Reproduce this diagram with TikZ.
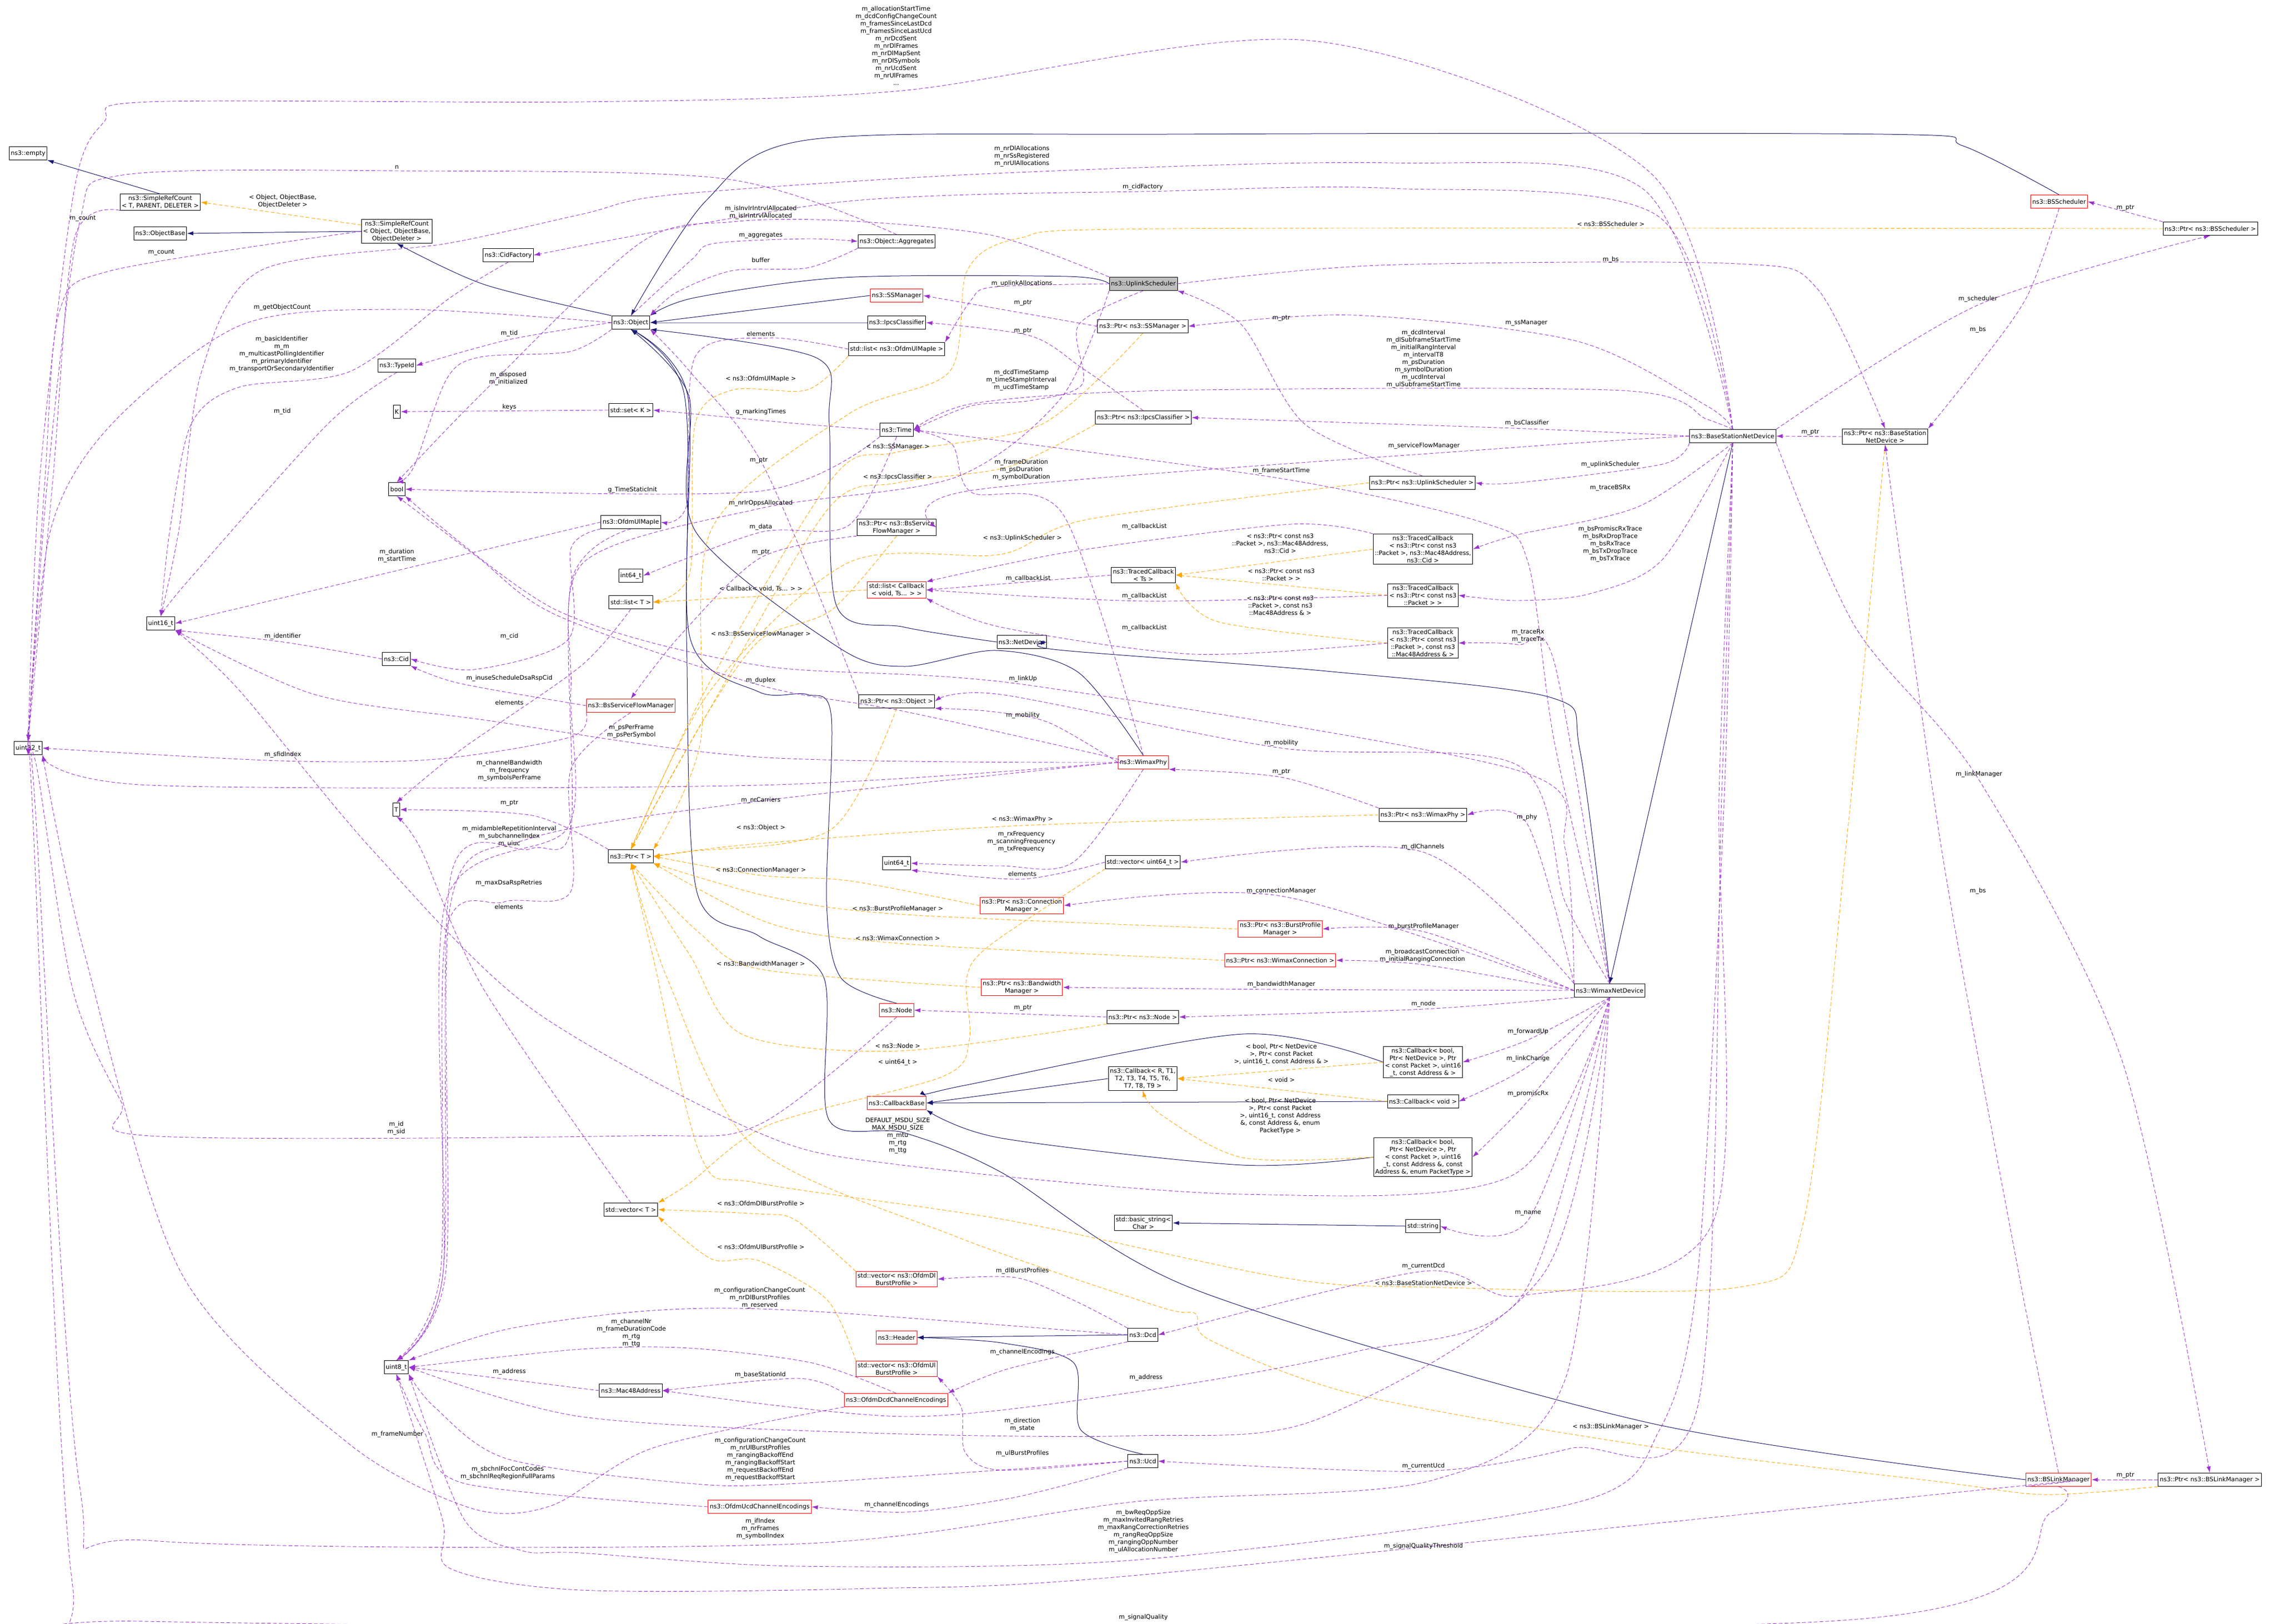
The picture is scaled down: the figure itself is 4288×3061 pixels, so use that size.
\documentclass[tikz,border=0pt]{standalone}
\usepackage{fontspec}
\setmainfont{DejaVu Sans}
\usetikzlibrary{arrows.meta}
\definecolor{mcol}{HTML}{9A32CD}
\definecolor{tcol}{HTML}{FFA500}
\definecolor{icol}{HTML}{191970}
\newcommand{\E}[4][mem]{\draw[#1] plot[smooth,tension=0.5] coordinates {#2 #3 #4};}
\begin{document}
\begin{tikzpicture}[x=1pt,y=-1pt,
  every node/.style={font=\fontsize{11.5}{14}\selectfont},
  box/.style={draw=black,fill=white,line width=1pt,inner sep=3pt,minimum height=25pt,align=center},
  rbox/.style={box,draw=red},
  gbox/.style={box,fill=black!25},
  lbl/.style={align=center,inner sep=0pt},
  mem/.style={draw=mcol,line width=0.9pt,dash pattern=on 7pt off 4pt,-{Latex[length=12pt,width=8pt]}},
  tmpl/.style={draw=tcol,line width=0.9pt,dash pattern=on 7pt off 4pt,-{Latex[length=12pt,width=8pt]}},
  inh/.style={draw=icol,line width=1pt,-{Latex[length=12pt,width=8pt]}}]
\useasboundingbox (0,0) rectangle (4288,3061);
% nodes
\node[box] (empty) at (53,289) {ns3::empty};
\node[box] (srcT) at (302,381) {ns3::SimpleRefCount\\< T, PARENT, DELETER >};
\node[box] (objbase) at (302,440) {ns3::ObjectBase};
\node[box] (srcO) at (748,436) {ns3::SimpleRefCount\\< Object, ObjectBase,\\ObjectDeleter >};
\node[box] (cidf) at (958,481) {ns3::CidFactory};
\node[box] (typeid) at (748,689) {ns3::TypeId};
\node[box] (K) at (748,776) {K};
\node[box] (u16) at (303,1175) {uint16\_t};
\node[box] (u32) at (53,1410) {uint32\_t};
\node[box] (bool) at (748,922) {bool};
\node[box] (cid) at (747,1242) {ns3::Cid};
\node[box] (T) at (747,1526) {T};
\node[box] (obj) at (1189,608) {ns3::Object};
\node[box] (setK) at (1189,773) {std::set< K >};
\node[box] (ulmapie) at (1189,984) {ns3::OfdmUlMapIe};
\node[box] (i64) at (1189,1085) {int64\_t};
\node[box] (listT) at (1189,1135) {std::list< T >};
\node[rbox] (bssfm) at (1189,1330) {ns3::BsServiceFlowManager};
\node[box] (ptrT) at (1189,1614) {ns3::Ptr< T >};
\node[box] (vecT) at (1189,2280) {std::vector< T >};
\node[box] (u8) at (747,2577) {uint8\_t};
\node[box] (mac) at (1189,2621) {ns3::Mac48Address};
\node[rbox] (header) at (1690,2521) {ns3::Header};
\node[box] (aggr) at (1690,455) {ns3::Object::Aggregates};
\node[rbox] (ssm) at (1690,557) {ns3::SSManager};
\node[box] (ipcs) at (1690,608) {ns3::IpcsClassifier};
\node[box] (listUl) at (1690,658) {std::list< ns3::OfdmUlMapIe >};
\node[box] (time) at (1690,810) {ns3::Time};
\node[box] (ptrSfm) at (1690,994) {ns3::Ptr< ns3::BsService\\FlowManager >};
\node[rbox] (listCb) at (1690,1112) {std::list< Callback\\< void, Ts... > >};
\node[box] (netdev) at (1926,1210) {ns3::NetDevice};
\node[box] (ptrObj) at (1690,1322) {ns3::Ptr< ns3::Object >};
\node[box] (u64) at (1690,1627) {uint64\_t};
\node[rbox] (ptrConn) at (1926,1707) {ns3::Ptr< ns3::Connection\\Manager >};
\node[rbox] (node) at (1690,1904) {ns3::Node};
\node[rbox] (cbbase) at (1690,2079) {ns3::CallbackBase};
\node[rbox] (vecDl) at (1690,2411) {std::vector< ns3::OfdmDl\\BurstProfile >};
\node[rbox] (vecUl) at (1690,2580) {std::vector< ns3::OfdmUl\\BurstProfile >};
\node[rbox] (dcdenc) at (1689,2639) {ns3::OfdmDcdChannelEncodings};
\node[rbox] (ucdenc) at (1432,2840) {ns3::OfdmUcdChannelEncodings};
\node[gbox] (ulsched) at (2155,535) {ns3::UplinkScheduler};
\node[box] (ptrSsm) at (2154,615) {ns3::Ptr< ns3::SSManager >};
\node[box] (ptrIpcs) at (2155,787) {ns3::Ptr< ns3::IpcsClassifier >};
\node[box] (ptrUls) at (2681,910) {ns3::Ptr< ns3::UplinkScheduler >};
\node[box] (tcCid) at (2682,1035) {ns3::TracedCallback\\< ns3::Ptr< const ns3\\::Packet >, ns3::Mac48Address,\\ns3::Cid >};
\node[box] (tcTs) at (2155,1084) {ns3::TracedCallback\\< Ts >};
\node[box] (tcPkt) at (2682,1122) {ns3::TracedCallback\\< ns3::Ptr< const ns3\\::Packet > >};
\node[box] (tcMac) at (2682,1212) {ns3::TracedCallback\\< ns3::Ptr< const ns3\\::Packet >, const ns3\\::Mac48Address \& >};
\node[rbox] (phy) at (2155,1437) {ns3::WimaxPhy};
\node[box] (ptrPhy) at (2682,1536) {ns3::Ptr< ns3::WimaxPhy >};
\node[box] (vecU64) at (2154,1625) {std::vector< uint64\_t >};
\node[rbox] (ptrBpm) at (2413,1751) {ns3::Ptr< ns3::BurstProfile\\Manager >};
\node[rbox] (ptrWc) at (2413,1810) {ns3::Ptr< ns3::WimaxConnection >};
\node[rbox] (ptrBw) at (1926,1861) {ns3::Ptr< ns3::Bandwidth\\Manager >};
\node[box] (ptrNode) at (2154,1917) {ns3::Ptr< ns3::Node >};
\node[box] (cbR) at (2154,2033) {ns3::Callback< R, T1,\\T2, T3, T4, T5, T6,\\T7, T8, T9 >};
\node[box] (cbBool) at (2682,2002) {ns3::Callback< bool,\\Ptr< NetDevice >, Ptr\\< const Packet >, uint16\\\_t, const Address \& >};
\node[box] (cbVoid) at (2682,2076) {ns3::Callback< void >};
\node[box] (cbPkt) at (2682,2181) {ns3::Callback< bool,\\Ptr< NetDevice >, Ptr\\< const Packet >, uint16\\\_t, const Address \&, const\\Address \&, enum PacketType >};
\node[box] (bstr) at (2155,2305) {std::basic\_string<\\Char >};
\node[box] (str) at (2682,2311) {std::string};
\node[box] (dcd) at (2154,2516) {ns3::Dcd};
\node[box] (ucd) at (2154,2754) {ns3::Ucd};
\node[box] (bsnd) at (3266,822) {ns3::BaseStationNetDevice};
\node[box] (ptrBsnd) at (3553,823) {ns3::Ptr< ns3::BaseStation\\NetDevice >};
\node[rbox] (bssch) at (3881,380) {ns3::BSScheduler};
\node[box] (ptrBssch) at (4166,431) {ns3::Ptr< ns3::BSScheduler >};
\node[box] (wnd) at (3034,1867) {ns3::WimaxNetDevice};
\node[rbox] (bslm) at (3880,2789) {ns3::BSLinkManager};
\node[box] (ptrBslm) at (4165,2789) {ns3::Ptr< ns3::BSLinkManager >};
% inheritance
\E[inh]{(srcT.north)}{}{(empty.south east)}
\E[inh]{(srcO.west)}{}{(objbase.east)}
\E[inh]{(obj.north west)}{(912,536)}{(srcO.south)}
\E[inh]{(ulsched.west)}{(2012,521) (1591,523) (1310,561)}{(obj.north east)}
\E[inh]{(ssm.west)}{}{(obj.east)}
\E[inh]{(ipcs.west)}{}{(obj.east)}
\E[inh]{(bssch.north)}{(3700,275) (3550,253) (2200,253) (1521,264) (1331,378)}{(obj.north)}
\E[inh]{(netdev.west)}{(1704,1182) (1576,1140) (1563,800) (1540,675)}{(obj.south east)}
\E[inh]{(phy.north)}{(2032,1267) (1877,1226) (1704,1256) (1580,1220) (1310,1000) (1298,745)}{(obj.south)}
\E[inh]{(node.north)}{(1585,1843) (1558,1700) (1567,1352) (1521,1309) (1430,1304) (1300,1200) (1296,745)}{(obj.south)}
\E[inh]{(bslm.west)}{(3100,2680) (2251,2430) (1886,2209) (1704,2135) (1562,2110) (1553,1843) (1430,1764) (1313,1679) (1294,1200) (1290,745)}{(obj.south)}
\E[inh]{(wnd.north)}{(2978,1415) (2924,1315) (2500,1265) (1995,1225)}{(netdev.east)}
\E[inh]{(bsnd.south)}{}{(wnd.north)}
\E[inh]{(str.west)}{}{(bstr.east)}
\E[inh]{(cbR.west)}{}{(cbbase.east)}
\E[inh]{(cbBool.west)}{(2342,1949) (1822,2045)}{(cbbase.north east)}
\E[inh]{(cbVoid.west)}{}{(cbbase.east)}
\E[inh]{(cbPkt.west)}{(2342,2196) (1886,2145)}{(cbbase.south east)}
\E[inh]{(dcd.west)}{}{(header.east)}
\E[inh]{(ucd.north)}{(2037,2695) (2024,2569) (1887,2531)}{(header.east)}
% template
\E[tmpl]{(srcO.170)}{}{(srcT.east)}
\E[tmpl]{(listUl.south west)}{(1521,735) (1381,735) (1310,800) (1300,1080)}{(listT.east)}
\E[tmpl]{(listCb.west)}{(1430,1124)}{(listT.east)}
\E[tmpl]{(ptrSsm.south)}{(1963,800) (1692,852) (1570,900) (1330,1300)}{(ptrT.north)}
\E[tmpl]{(ptrIpcs.south west)}{(1900,880) (1692,910) (1560,960) (1330,1350)}{(ptrT.north)}
\E[tmpl]{(ptrUls.west)}{(2050,979) (1886,1045) (1600,1060) (1340,1300)}{(ptrT.north)}
\E[tmpl]{(ptrSfm.south)}{(1567,1150) (1434,1205) (1330,1350)}{(ptrT.north)}
\E[tmpl]{(ptrBssch.west)}{(2200,431) (1921,449) (1823,510) (1790,700) (1600,780) (1340,1000) (1320,1400)}{(ptrT.north east)}
\E[tmpl]{(ptrObj.south)}{(1567,1563) (1300,1605)}{(ptrT.east)}
\E[tmpl]{(ptrPhy.west)}{(1927,1556) (1430,1590)}{(ptrT.east)}
\E[tmpl]{(ptrConn.west)}{(1600,1660) (1434,1650)}{(ptrT.east)}
\E[tmpl]{(ptrBpm.west)}{(1692,1723) (1450,1690)}{(ptrT.south east)}
\E[tmpl]{(ptrWc.west)}{(1692,1778) (1450,1740)}{(ptrT.south east)}
\E[tmpl]{(ptrBw.west)}{(1434,1827) (1320,1760)}{(ptrT.south)}
\E[tmpl]{(ptrNode.south west)}{(1692,1981) (1400,1950) (1300,1800)}{(ptrT.south)}
\E[tmpl]{(ptrBsnd.south)}{(3479,1600) (3400,2300) (3279,2426) (2683,2426) (2417,2408) (1900,2300) (1430,2230) (1322,2182) (1230,1800)}{(ptrT.south)}
\E[tmpl]{(ptrBslm.south west)}{(3853,2817) (3648,2792) (3101,2725) (2554,2628) (2281,2526) (2253,2476) (2185,2463) (1800,2330) (1420,2160) (1260,1850)}{(ptrT.south)}
\E[tmpl]{(vecU64.south west)}{(1868,1780) (1822,1843) (1827,1960) (1777,2029) (1450,2120) (1300,2230)}{(vecT.north east)}
\E[tmpl]{(vecDl.north west)}{(1500,2300) (1430,2288)}{(vecT.east)}
\E[tmpl]{(vecUl.north west)}{(1559,2450) (1430,2376) (1341,2373)}{(vecT.south east)}
\E[tmpl]{(tcCid.west)}{}{(tcTs.east)}
\E[tmpl]{(tcPkt.west)}{}{(tcTs.east)}
\E[tmpl]{(tcMac.west)}{(2296,1172)}{(tcTs.south east)}
\E[tmpl]{(cbBool.west)}{}{(cbR.east)}
\E[tmpl]{(cbVoid.west)}{}{(cbR.east)}
\E[tmpl]{(cbPkt.west)}{(2342,2182) (2187,2100)}{(cbR.south)}
% members
\E{(bsnd.north)}{(3112,327) (2474,77) (1689,172) (1100,192) (281,192) (196,230) (140,357) (75,900)}{(u32.north)}
\E{(aggr.north)}{(1367,337) (748,322) (231,330) (150,420) (90,900)}{(u32.north)}
\E{(srcT.south west)}{(140,450) (100,900)}{(u32.north)}
\E{(srcO.west)}{(210,510) (112,587) (85,900)}{(u32.north)}
\E{(obj.west)}{(757,583) (456,612) (210,800) (95,1000)}{(u32.north)}
\E{(obj.west)}{(960,640)}{(typeid.east)}
\E{(cidf.south)}{(850,560) (660,700) (450,730) (360,800) (320,1000)}{(u16.north)}
\E{(obj.south west)}{(1073,663) (905,673) (842,714) (780,880)}{(bool.north)}
\E{(setK.west)}{}{(K.east)}
\E{(typeid.south)}{(617,800) (350,1100)}{(u16.north)}
\E{(bsnd.north)}{(3098,357) (2621,307) (1872,327) (1268,367) (1100,403) (842,459) (491,510) (380,700) (337,1000)}{(u16.north)}
\E{(bsnd.north)}{(3126,408) (2621,355) (2200,360) (1591,380)}{(cidf.east)}
\E{(ulsched.north west)}{(1872,444) (1591,416) (1381,418) (1205,459) (900,750)}{(bool.north)}
\E{(obj.north)}{(1303,490) (1345,459) (1521,450)}{(aggr.west)}
\E{(aggr.south west)}{(1521,505) (1381,510) (1275,551)}{(obj.north east)}
\E{(ulsched.west)}{(1872,541) (1830,566)}{(listUl.north east)}
\E{(ptrSsm.west)}{}{(ssm.east)}
\E{(ptrIpcs.north)}{(2040,694) (1942,633)}{(ipcs.east)}
\E{(ptrUls.north)}{(2460,800) (2340,612)}{(ulsched.south east)}
\E{(ulsched.south)}{(2033,612) (2040,724) (1942,755) (1830,765)}{(time.east)}
\E{(listUl.west)}{(1451,637) (1310,673) (1295,949)}{(ulmapie.east)}
\E{(time.west)}{(1521,800)}{(setK.east)}
\E{(ulsched.east)}{(2600,500) (3273,497) (3426,545)}{(ptrBsnd.north)}
\E{(bssch.south)}{(3820,560) (3720,700)}{(ptrBsnd.north east)}
\E{(ptrBsnd.west)}{}{(bsnd.east)}
\E{(bsnd.north east)}{(3728,575)}{(ptrBssch.south)}
\E{(ptrBssch.north west)}{}{(bssch.east)}
\E{(bsnd.north)}{(3217,765) (2972,643) (2551,594)}{(ptrSsm.east)}
\E{(bsnd.north)}{(3217,790) (3056,736) (2200,736) (1837,760)}{(time.east)}
\E{(bsnd.west)}{(2878,808)}{(ptrIpcs.east)}
\E{(bsnd.west)}{(2860,843) (1840,923)}{(ptrSfm.east)}
\E{(bsnd.south west)}{(3133,875) (2860,910)}{(ptrUls.east)}
\E{(bsnd.south)}{(3088,955) (2860,1008)}{(tcCid.east)}
\E{(bsnd.south)}{(3133,1055) (2997,1119) (2860,1132)}{(tcPkt.east)}
\E{(wnd.north)}{(2930,1400) (2880,1060) (2798,986) (2415,902)}{(time.east)}
\E{(wnd.north)}{(2930,1250) (2860,1215)}{(tcMac.east)}
\E{(wnd.north west)}{(2878,1552)}{(ptrPhy.east)}
\E{(wnd.north west)}{(2682,1606)}{(vecU64.east)}
\E{(wnd.west)}{(2415,1689)}{(ptrConn.east)}
\E{(wnd.west)}{(2683,1756)}{(ptrBpm.east)}
\E{(wnd.west)}{(2681,1818)}{(ptrWc.east)}
\E{(wnd.west)}{(2415,1865)}{(ptrBw.east)}
\E{(wnd.south west)}{(2683,1902)}{(ptrNode.east)}
\E{(wnd.south)}{(2880,1960)}{(cbBool.east)}
\E{(wnd.south)}{(2880,2010)}{(cbVoid.east)}
\E{(wnd.south)}{(2880,2075)}{(cbPkt.east)}
\E{(wnd.south)}{(2880,2300)}{(str.east)}
\E{(bsnd.south)}{(3240,1500) (3230,2300) (2869,2442) (2683,2396)}{(dcd.east)}
\E{(bsnd.south)}{(3245,1500) (3200,2650) (2960,2730) (2683,2773)}{(ucd.east)}
\E{(wnd.north west)}{(2950,1600) (2860,1452) (1928,1290) (1430,1254) (1049,1150)}{(bool.south east)}
\E{(phy.west)}{(1977,1362) (1868,1341)}{(ptrObj.south east)}
\E{(wnd.north)}{(2950,1700) (2860,1442) (2415,1410) (1886,1309)}{(ptrObj.east)}
\E{(ptrPhy.north west)}{(2415,1465)}{(phy.south east)}
\E{(phy.south)}{(2023,1625) (1886,1632)}{(u64.east)}
\E{(vecU64.west)}{(1927,1657)}{(u64.south east)}
\E{(ptrNode.west)}{}{(node.east)}
\E{(node.south)}{(1430,2120) (1186,2141) (283,2141) (228,2076) (137,1865) (70,1450)}{(u32.south)}
\E{(wnd.south)}{(2853,2214) (2342,2251) (1692,2195) (1430,2135) (1000,1900) (700,1600) (450,1300)}{(u16.south east)}
\E{(bsnd.south east)}{(3497,1182) (3730,1470) (4000,2000)}{(ptrBslm.north)}
\E{(ptrBslm.west)}{}{(bslm.east)}
\E{(bslm.north)}{(3805,2400) (3661,1610)}{(ptrBsnd.south)}
\E{(bsnd.south)}{(3250,1500) (3200,2400) (3128,2695) (2964,2834) (2144,2940) (1504,2952) (1094,2927) (985,2923) (875,2864)}{(u8.south east)}
\E{(bslm.south west)}{(3805,2801) (2144,2969) (1641,2994) (1094,2997) (848,2956) (834,2864)}{(u8.south)}
\E{(bslm.south)}{(3867,2850) (3443,3056) (273,3056) (137,2990) (60,1500)}{(u32.south)}
\E{(wnd.south)}{(2910,2400) (2486,2674) (2144,2706) (1641,2701) (1094,2670)}{(u8.east)}
\E{(wnd.south)}{(2869,2442) (2554,2548) (2144,2623) (1709,2670)}{(mac.east)}
\E{(wnd.south)}{(2950,2600) (2700,2790) (2144,2830) (1504,2910) (287,2904) (150,2800) (65,1500)}{(u32.south)}
\E{(dcdenc.south west)}{(1231,2729) (1039,2838) (889,2843) (656,2720) (342,2400) (160,1800)}{(u32.south east)}
\E{(ucdenc.west)}{(875,2796) (800,2700)}{(u8.south)}
\E{(ucd.west)}{(1504,2796) (1299,2796) (957,2750) (820,2653)}{(u8.south east)}
\E{(ucd.west)}{(1887,2771) (1819,2737) (1812,2653)}{(vecUl.south east)}
\E{(ucd.south west)}{(1914,2822) (1709,2850)}{(ucdenc.east)}
\E{(dcd.south west)}{(1900,2580)}{(dcdenc.north east)}
\E{(dcd.north west)}{(2024,2451) (1914,2408)}{(vecDl.east)}
\E{(dcd.west)}{(1504,2470) (1231,2470) (957,2505)}{(u8.north east)}
\E{(dcdenc.north)}{(1531,2569) (1299,2541) (1094,2543)}{(u8.east)}
\E{(mac.west)}{}{(u8.east)}
\E{(dcdenc.north west)}{(1504,2598)}{(mac.east)}
\E{(phy.west)}{(1430,1510) (1000,1580) (850,1700) (840,2400)}{(u8.north)}
\E{(phy.west)}{(1430,1427) (912,1357) (593,1309)}{(u16.south east)}
\E{(phy.west)}{(1430,1480) (283,1480)}{(u32.south east)}
\E{(bssfm.south west)}{(1076,1389) (821,1431) (529,1434)}{(u32.east)}
\E{(bssfm.west)}{(866,1288)}{(cid.south east)}
\E{(ulmapie.south west)}{(1076,1034) (1072,1204) (894,1262)}{(cid.east)}
\E{(ulmapie.west)}{}{(u16.east)}
\E{(cid.west)}{(533,1210)}{(u16.south east)}
\E{(time.south west)}{(1430,926)}{(bool.east)}
\E{(listT.south)}{(1094,1256) (866,1415)}{(T.north)}
\E{(ptrT.north west)}{(1003,1537)}{(T.east)}
\E{(ulmapie.south)}{(1076,1100) (1076,1560) (1000,1600) (850,1650) (835,2400)}{(u8.north)}
\E{(bssfm.south)}{(1076,1450) (1076,1680) (950,1700) (840,1760) (830,2400)}{(u8.north)}
\E{(vecT.north)}{(912,1865) (793,1600)}{(T.south)}
\E{(phy.north)}{(2004,970) (1831,928) (1795,838)}{(time.east)}
\E{(ulsched.south west)}{(2000,750) (1800,900) (1434,958) (1100,1060) (1076,1300) (1070,1560) (840,1700) (835,2400)}{(u8.north)}
\E{(time.south)}{(1600,990) (1434,1003)}{(i64.east)}
\E{(ptrSfm.south west)}{(1434,1051) (1280,1200)}{(bssfm.north)}
\E{(ptrObj.north west)}{(1440,880) (1300,700)}{(obj.south east)}
\E{(phy.west)}{(2087,1426) (1700,1340) (1434,1292) (1050,1160) (900,1050)}{(bool.south)}
\E{(tcCid.north west)}{(2433,988) (2023,1039)}{(listCb.north east)}
\E{(tcTs.west)}{}{(listCb.east)}
\E{(tcPkt.west)}{(2157,1133)}{(listCb.east)}
\E{(tcMac.west)}{(2251,1233) (1886,1182)}{(listCb.south east)}
% labels
\node[lbl] (l1) at (1689,86) {m\_allocationStartTime\\m\_dcdConfigChangeCount\\m\_framesSinceLastDcd\\m\_framesSinceLastUcd\\m\_nrDcdSent\\m\_nrDlFrames\\m\_nrDlMapSent\\m\_nrDlSymbols\\m\_nrUcdSent\\m\_nrUlFrames\\...};
\node[lbl] (l2) at (748,315) {n};
\node[lbl] (l3) at (533,379) {< Object, ObjectBase,\\ObjectDeleter >};
\node[lbl] (l4) at (156,412) {m\_count};
\node[lbl] (l5) at (304,476) {m\_count};
\node[lbl] (l6) at (532,579) {m\_getObjectCount};
\node[lbl] (l7) at (960,628) {m\_tid};
\node[lbl] (l8) at (531,667) {m\_basicIdentifier\\m\_m\\m\_multicastPollingIdentifier\\m\_primaryIdentifier\\m\_transportOrSecondaryIdentifier};
\node[lbl] (l9) at (958,713) {m\_disposed\\m\_initialized};
\node[lbl] (l10) at (960,767) {keys};
\node[lbl] (l11) at (532,775) {m\_tid};
\node[lbl] (l12) at (1926,294) {m\_nrDlAllocations\\m\_nrSsRegistered\\m\_nrUlAllocations};
\node[lbl] (l13) at (2154,352) {m\_cidFactory};
\node[lbl] (l14) at (1434,400) {m\_isInvIrIntrvlAllocated\\m\_isIrIntrvlAllocated};
\node[lbl] (l15) at (1434,444) {m\_aggregates};
\node[lbl] (l16) at (1434,490) {buffer};
\node[lbl] (l17) at (1926,534) {m\_uplinkAllocations};
\node[lbl] (l18) at (1928,571) {m\_ptr};
\node[lbl] (l19) at (1928,624) {m\_ptr};
\node[lbl] (l20) at (1434,629) {elements};
\node[lbl] (l21) at (1434,714) {< ns3::OfdmUlMapIe >};
\node[lbl] (l22) at (1925,716) {m\_dcdTimeStamp\\m\_timeStampIrInterval\\m\_ucdTimeStamp};
\node[lbl] (l23) at (1434,776) {g\_markingTimes};
\node[lbl] (l24) at (3036,422) {< ns3::BSScheduler >};
\node[lbl] (l25) at (3036,489) {m\_bs};
\node[lbl] (l26) at (2415,600) {m\_ptr};
\node[lbl] (l27) at (2877,609) {m\_ssManager};
\node[lbl] (l28) at (2683,676) {m\_dcdInterval\\m\_dlSubframeStartTime\\m\_initialRangInterval\\m\_intervalT8\\m\_psDuration\\m\_symbolDuration\\m\_ucdInterval\\m\_ulSubframeStartTime};
\node[lbl] (l29) at (2878,797) {m\_bsClassifier};
\node[lbl] (l30) at (4006,392) {m\_ptr};
\node[lbl] (l31) at (3728,563) {m\_scheduler};
\node[lbl] (l32) at (3728,621) {m\_bs};
\node[lbl] (l33) at (3412,815) {m\_ptr};
\node[lbl] (l34) at (3035,875) {m\_uplinkScheduler};
\node[lbl] (l35) at (3035,920) {m\_traceBSRx};
\node[lbl] (l36) at (3035,1025) {m\_bsPromiscRxTrace\\m\_bsRxDropTrace\\m\_bsRxTrace\\m\_bsTxDropTrace\\m\_bsTxTrace};
\node[lbl] (l37) at (2880,1199) {m\_traceRx\\m\_traceTx};
\node[lbl] (l38) at (3730,1459) {m\_linkManager};
\node[lbl] (l39) at (2878,1540) {m\_phy};
\node[lbl] (l40) at (1692,842) {< ns3::SSManager >};
\node[lbl] (l41) at (1692,899) {< ns3::IpcsClassifier >};
\node[lbl] (l42) at (1925,885) {m\_frameDuration\\m\_psDuration\\m\_symbolDuration};
\node[lbl] (l43) at (2684,840) {m\_serviceFlowManager};
\node[lbl] (l44) at (2415,887) {m\_frameStartTime};
\node[lbl] (l45) at (1927,1014) {< ns3::UplinkScheduler >};
\node[lbl] (l46) at (2157,992) {m\_callbackList};
\node[lbl] (l47) at (2413,1024) {< ns3::Ptr< const ns3\\::Packet >, ns3::Mac48Address,\\ns3::Cid >};
\node[lbl] (l48) at (1938,1090) {m\_callbackList};
\node[lbl] (l49) at (2415,1083) {< ns3::Ptr< const ns3\\::Packet > >};
\node[lbl] (l50) at (2157,1123) {m\_callbackList};
\node[lbl] (l51) at (2413,1141) {< ns3::Ptr< const ns3\\::Packet >, const ns3\\::Mac48Address \& >};
\node[lbl] (l52) at (2157,1183) {m\_callbackList};
\node[lbl] (l53) at (1928,1279) {m\_linkUp};
\node[lbl] (l54) at (1928,1348) {m\_mobility};
\node[lbl] (l55) at (2415,1400) {m\_mobility};
\node[lbl] (l56) at (2415,1455) {m\_ptr};
\node[lbl] (l57) at (1927,1544) {< ns3::WimaxPhy >};
\node[lbl] (l58) at (1925,1587) {m\_rxFrequency\\m\_scanningFrequency\\m\_txFrequency};
\node[lbl] (l59) at (1434,1110) {< Callback< void, Ts... > >};
\node[lbl] (l60) at (1434,1195) {< ns3::BsServiceFlowManager >};
\node[lbl] (l61) at (1434,1282) {m\_duplex};
\node[lbl] (l62) at (1434,948) {m\_nrIrOppsAllocated};
\node[lbl] (l63) at (1434,993) {m\_data};
\node[lbl] (l64) at (1434,1041) {m\_ptr};
\node[lbl] (l65) at (1430,868) {m\_ptr};
\node[lbl] (l66) at (1434,1508) {m\_nrCarriers};
\node[lbl] (l67) at (1434,1560) {< ns3::Object >};
\node[lbl] (l68) at (960,1199) {m\_cid};
\node[lbl] (l69) at (533,1199) {m\_identifier};
\node[lbl] (l70) at (748,1047) {m\_duration\\m\_startTime};
\node[lbl] (l71) at (1192,923) {g\_TimeStaticInit};
\node[lbl] (l72) at (960,1278) {m\_inuseScheduleDsaRspCid};
\node[lbl] (l73) at (960,1324) {elements};
\node[lbl] (l74) at (1190,1379) {m\_psPerFrame\\m\_psPerSymbol};
\node[lbl] (l75) at (533,1422) {m\_sfidIndex};
\node[lbl] (l76) at (960,1452) {m\_channelBandwidth\\m\_frequency\\m\_symbolsPerFrame};
\node[lbl] (l77) at (960,1514) {m\_ptr};
\node[lbl] (l78) at (960,1576) {m\_midambleRepetitionInterval\\m\_subchannelIndex\\m\_uiuc};
\node[lbl] (l79) at (959,1664) {m\_maxDsaRspRetries};
\node[lbl] (l80) at (959,1709) {elements};
\node[lbl] (l81) at (747,2126) {m\_id\\m\_sid};
\node[lbl] (l82) at (1434,1640) {< ns3::ConnectionManager >};
\node[lbl] (l83) at (1434,1817) {< ns3::BandwidthManager >};
\node[lbl] (l84) at (1434,2268) {< ns3::OfdmDlBurstProfile >};
\node[lbl] (l85) at (1434,2350) {< ns3::OfdmUlBurstProfile >};
\node[lbl] (l86) at (1927,1647) {elements};
\node[lbl] (l87) at (2415,1679) {m\_connectionManager};
\node[lbl] (l88) at (1692,1713) {< ns3::BurstProfileManager >};
\node[lbl] (l89) at (2683,1746) {m\_burstProfileManager};
\node[lbl] (l90) at (1692,1768) {< ns3::WimaxConnection >};
\node[lbl] (l91) at (2681,1801) {m\_broadcastConnection\\m\_initialRangingConnection};
\node[lbl] (l92) at (2415,1855) {m\_bandwidthManager};
\node[lbl] (l93) at (1928,1900) {m\_ptr};
\node[lbl] (l94) at (2683,1892) {m\_node};
\node[lbl] (l95) at (1692,1971) {< ns3::Node >};
\node[lbl] (l96) at (1692,2002) {< uint64\_t >};
\node[lbl] (l97) at (2415,1987) {< bool, Ptr< NetDevice\\>, Ptr< const Packet\\>, uint16\_t, const Address \& >};
\node[lbl] (l98) at (2415,2035) {< void >};
\node[lbl] (l99) at (2413,2103) {< bool, Ptr< NetDevice\\>, Ptr< const Packet\\>, uint16\_t, const Address\\\&, const Address \&, enum\\PacketType >};
\node[lbl] (l100) at (1692,2141) {DEFAULT\_MSDU\_SIZE\\MAX\_MSDU\_SIZE\\m\_mtu\\m\_rtg\\m\_ttg};
\node[lbl] (l101) at (2880,1944) {m\_forwardUp};
\node[lbl] (l102) at (2880,1995) {m\_linkChange};
\node[lbl] (l103) at (2880,2061) {m\_promiscRx};
\node[lbl] (l104) at (2880,2287) {m\_name};
\node[lbl] (l105) at (3728,1679) {m\_bs};
\node[lbl] (l106) at (1927,2395) {m\_dlBurstProfiles};
\node[lbl] (l107) at (2683,2386) {m\_currentDcd};
\node[lbl] (l108) at (2683,2418) {< ns3::BaseStationNetDevice >};
\node[lbl] (l109) at (1432,2446) {m\_configurationChangeCount\\m\_nrDlBurstProfiles\\m\_reserved};
\node[lbl] (l110) at (1190,2512) {m\_channelNr\\m\_frameDurationCode\\m\_rtg\\m\_ttg};
\node[lbl] (l111) at (1927,2548) {m\_channelEncodings};
\node[lbl] (l112) at (960,2585) {m\_address};
\node[lbl] (l113) at (1433,2591) {m\_baseStationId};
\node[lbl] (l114) at (2160,2596) {m\_address};
\node[lbl] (l115) at (1927,2685) {m\_direction\\m\_state};
\node[lbl] (l116) at (749,2703) {m\_frameNumber};
\node[lbl] (l117) at (1433,2750) {m\_configurationChangeCount\\m\_nrUlBurstProfiles\\m\_rangingBackoffEnd\\m\_rangingBackoffStart\\m\_requestBackoffEnd\\m\_requestBackoffStart};
\node[lbl] (l118) at (1927,2739) {m\_ulBurstProfiles};
\node[lbl] (l119) at (957,2776) {m\_sbchnlFocContCodes\\m\_sbchnlReqRegionFullParams};
\node[lbl] (l120) at (1690,2836) {m\_channelEncodings};
\node[lbl] (l121) at (1433,2881) {m\_ifIndex\\m\_nrFrames\\m\_symbolIndex};
\node[lbl] (l122) at (2155,2886) {m\_bwReqOppSize\\m\_maxInvitedRangRetries\\m\_maxRangCorrectionRetries\\m\_rangReqOppSize\\m\_rangingOppNumber\\m\_ulAllocationNumber};
\node[lbl] (l123) at (2683,2914) {m\_signalQualityThreshold};
\node[lbl] (l124) at (2155,3048) {m\_signalQuality};
\node[lbl] (l125) at (2683,2763) {m\_currentUcd};
\node[lbl] (l126) at (3036,2689) {< ns3::BSLinkManager >};
\node[lbl] (l127) at (4006,2781) {m\_ptr};
\node[lbl] (l128) at (2682,1596) {m\_dlChannels};
\end{tikzpicture}
\end{document}
